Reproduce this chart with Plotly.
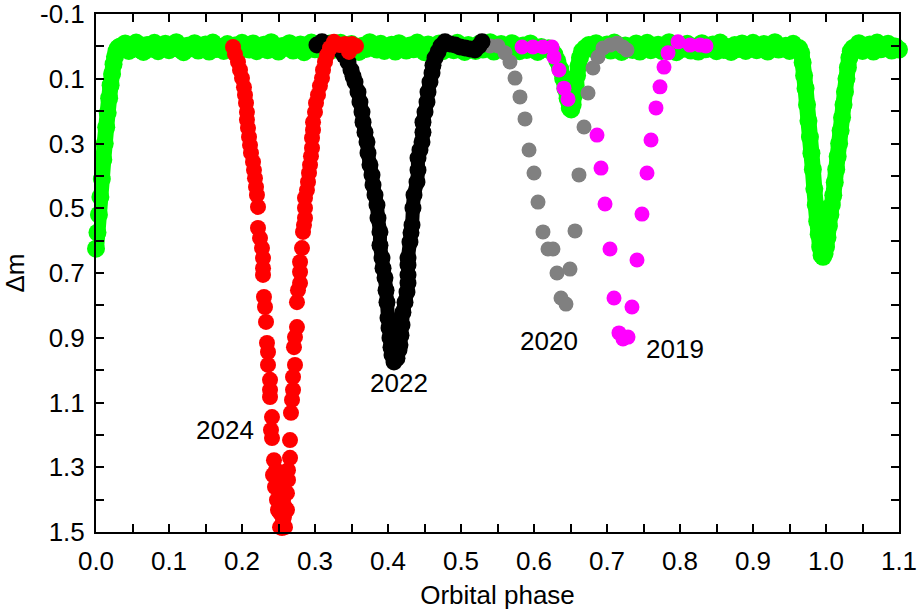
import plotly.graph_objects as go

# ---------------- data ----------------
# Green: full light curve (phase, delta m)
green_phase = [
    0.000, 0.002, 0.004, 0.006, 0.008, 0.010, 0.012, 0.014, 0.016, 0.018,
    0.020, 0.022, 0.024, 0.026, 0.028, 0.030, 0.033,
    0.035, 0.040, 0.045, 0.050, 0.055, 0.060, 0.065, 0.070, 0.075, 0.080,
    0.085, 0.090, 0.095, 0.100, 0.105, 0.110, 0.115, 0.120, 0.125, 0.130,
    0.135, 0.140, 0.145, 0.150, 0.155, 0.160, 0.165, 0.170, 0.175, 0.180,
    0.185, 0.190, 0.195, 0.200, 0.205, 0.210, 0.215, 0.220, 0.225, 0.230,
    0.235, 0.240, 0.245, 0.250, 0.255, 0.260, 0.265, 0.270, 0.275, 0.280,
    0.285, 0.290, 0.295, 0.300, 0.305, 0.310, 0.315, 0.320, 0.325, 0.330,
    0.335, 0.340, 0.345, 0.350, 0.355, 0.360, 0.365, 0.370, 0.375, 0.380,
    0.385, 0.390, 0.395, 0.400, 0.405, 0.410, 0.415, 0.420, 0.425, 0.430,
    0.435, 0.440, 0.445, 0.450, 0.455, 0.460, 0.465, 0.470, 0.475, 0.480,
    0.485, 0.490, 0.495, 0.500, 0.505, 0.510, 0.515, 0.520, 0.525, 0.530,
    0.535, 0.540, 0.545, 0.550, 0.555, 0.560, 0.565, 0.570, 0.575, 0.580,
    0.585, 0.590, 0.595, 0.600, 0.605, 0.610,
    0.615, 0.620, 0.624, 0.628, 0.632, 0.636, 0.640, 0.643, 0.646, 0.649,
    0.651, 0.653, 0.655, 0.657, 0.659, 0.661, 0.663, 0.666, 0.670, 0.675,
    0.680, 0.685, 0.690, 0.695, 0.700, 0.705, 0.710, 0.715, 0.720, 0.725,
    0.730, 0.735, 0.740, 0.745, 0.750, 0.755, 0.760, 0.765, 0.770, 0.775,
    0.780, 0.785, 0.790, 0.795, 0.800, 0.805, 0.810, 0.815, 0.820, 0.825,
    0.830, 0.835, 0.840, 0.845, 0.850, 0.855, 0.860, 0.865, 0.870, 0.875,
    0.880, 0.885, 0.890, 0.895, 0.900, 0.905, 0.910, 0.915, 0.920, 0.925,
    0.930, 0.935, 0.940, 0.945, 0.950, 0.955, 0.960,
    0.963, 0.966, 0.968, 0.970, 0.972, 0.974, 0.976, 0.978, 0.980, 0.982,
    0.984, 0.986, 0.988, 0.990, 0.992, 0.994, 0.996, 0.998, 1.000, 1.002,
    1.004, 1.006, 1.008, 1.010, 1.012, 1.014, 1.016, 1.018, 1.020, 1.022,
    1.024, 1.026, 1.028, 1.030, 1.032, 1.034, 1.037,
    1.040, 1.045, 1.050, 1.055, 1.060, 1.065, 1.070, 1.075, 1.080, 1.085,
    1.090, 1.095, 1.100,
]
green_dm = [
    0.625, 0.575, 0.520, 0.465, 0.410, 0.350, 0.300, 0.250, 0.205, 0.160,
    0.120, 0.085, 0.055, 0.032, 0.015, 0.005, 0.000,
    0.004, -0.009, 0.014, 0.001, -0.012, 0.010, 0.017, -0.004, 0.007, -0.011,
    0.015, 0.000, -0.008, 0.012, 0.005, -0.013, 0.009, 0.018, -0.002, 0.006,
    -0.010, 0.013, 0.003, -0.006, 0.016, -0.012, 0.008, 0.002, 0.014, -0.007,
    0.011, -0.003, 0.017, -0.011, 0.005, 0.010, -0.009, 0.015, 0.001, -0.005,
    0.012, -0.013, 0.007, 0.016, -0.001, 0.004, -0.010, 0.013, 0.008, -0.006,
    0.018, 0.002, -0.012, 0.009, -0.004, 0.014, 0.006, -0.009, 0.011, 0.000,
    -0.011, 0.015, 0.003, -0.007, 0.012, 0.017, -0.002, 0.008, -0.013, 0.005,
    0.010, -0.008, 0.014, 0.001, -0.005, 0.016, -0.010, 0.007, 0.013, -0.003,
    0.009, -0.012, 0.004, 0.018, -0.006, 0.011, 0.002, -0.009, 0.015, 0.006,
    -0.001, 0.012, -0.011, 0.008, 0.017, -0.004, 0.003, 0.014, -0.008, 0.010,
    0.005, -0.013, 0.016, 0.000, -0.007, 0.013, 0.009, -0.010, 0.006, 0.015,
    -0.003, 0.011, -0.009, 0.004, 0.017, 0.002,
    0.008, 0.006, 0.012, 0.025, 0.045, 0.070, 0.100, 0.130, 0.160, 0.190,
    0.195, 0.180, 0.150, 0.120, 0.090, 0.060, 0.035, 0.015, 0.005, -0.004,
    0.008, -0.010, 0.015, 0.002, -0.006, 0.013, -0.012, 0.009, 0.017, -0.003,
    0.005, 0.011, -0.009, 0.016, 0.000, -0.011, 0.012, 0.006, -0.005, 0.014,
    0.003, -0.013, 0.010, 0.018, -0.002, 0.007, -0.008, 0.013, 0.001, 0.016,
    -0.010, 0.009, 0.004, -0.006, 0.015, -0.012, 0.011, 0.002, 0.017, -0.004,
    0.008, -0.009, 0.014, 0.000, -0.011, 0.012, 0.005, -0.007, 0.016, 0.003,
    -0.013, 0.010, 0.006, -0.002, 0.014, -0.008, 0.009,
    0.005, 0.020, 0.050, 0.090, 0.130, 0.180, 0.230, 0.280, 0.330, 0.380,
    0.440, 0.490, 0.540, 0.580, 0.620, 0.645, 0.650, 0.640, 0.620, 0.590,
    0.555, 0.520, 0.490, 0.460, 0.420, 0.380, 0.340, 0.300, 0.260, 0.220,
    0.180, 0.140, 0.100, 0.065, 0.035, 0.015, 0.005,
    0.006, -0.010, 0.014, 0.001, -0.006, 0.016, -0.012, 0.009, 0.003, -0.008,
    0.013, 0.000, 0.010,
]

# 2024 (red)
red_phase = [
    0.1877, 0.1904, 0.1945, 0.1973, 0.2000, 0.2027, 0.2041, 0.2055, 0.2068, 0.2068,
    0.2082, 0.2096, 0.2110, 0.2123, 0.2151, 0.2164, 0.2178, 0.2192, 0.2205, 0.2219,
    0.2219, 0.2247, 0.2274, 0.2288, 0.2288, 0.2288, 0.2301, 0.2315, 0.2329, 0.2342,
    0.2356, 0.2356, 0.2384, 0.2384, 0.2384, 0.2411, 0.2397, 0.2411, 0.2438, 0.2425,
    0.2452, 0.2479, 0.2493, 0.2521,
    0.2493, 0.2548, 0.2521, 0.2562, 0.2521, 0.2616, 0.2589, 0.2548, 0.2575, 0.2466,
    0.2548, 0.2562, 0.2589, 0.2616, 0.2630, 0.2630, 0.2658, 0.2658, 0.2671, 0.2685,
    0.2699, 0.2699, 0.2726, 0.2712, 0.2726, 0.2753, 0.2753, 0.2767, 0.2795, 0.2795,
    0.2795, 0.2822, 0.2836, 0.2849, 0.2863, 0.2863, 0.2863, 0.2890, 0.2904, 0.2918,
    0.2932, 0.2945, 0.2959, 0.2959, 0.2973, 0.2973, 0.3000, 0.3014, 0.3041, 0.3068,
    0.3096, 0.3110, 0.3137, 0.3164, 0.3205,
    0.3260, 0.3342, 0.3411, 0.3466, 0.3507, 0.3562,
]
red_dm = [
    0.002, 0.024, 0.048, 0.073, 0.098, 0.126, 0.150, 0.175, 0.203, 0.227,
    0.252, 0.280, 0.305, 0.329, 0.357, 0.382, 0.407, 0.434, 0.459, 0.496,
    0.561, 0.592, 0.623, 0.654, 0.685, 0.706, 0.774, 0.805, 0.851, 0.916,
    0.944, 0.984, 1.030, 1.061, 1.083, 1.145, 1.185, 1.210, 1.278, 1.324,
    1.361, 1.401, 1.432, 1.485,
    1.339, 1.361, 1.386, 1.401, 1.441, 1.432, 1.485, 1.503, 1.454, 1.309,
    1.488, 1.463, 1.423, 1.380, 1.339, 1.309, 1.271, 1.216, 1.132, 1.092,
    1.061, 1.021, 0.984, 0.929, 0.898, 0.867, 0.790, 0.753, 0.731, 0.697,
    0.666, 0.623, 0.573, 0.552, 0.530, 0.499, 0.468, 0.444, 0.419, 0.391,
    0.366, 0.339, 0.314, 0.283, 0.258, 0.234, 0.203, 0.175, 0.150, 0.122,
    0.098, 0.073, 0.048, 0.027, 0.005,
    -0.014, -0.004, -0.007, 0.017, -0.007, -0.001,
]

# 2022 (black)
black_phase = [
    0.3027, 0.3096, 0.3178, 0.3260, 0.3342, 0.3397, 0.3452, 0.3493, 0.3521, 0.3548,
    0.3589, 0.3616, 0.3644, 0.3658, 0.3685, 0.3712, 0.3726, 0.3753, 0.3781, 0.3795,
    0.3822, 0.3849, 0.3863, 0.3890, 0.3890, 0.3918, 0.3932, 0.3959, 0.3973, 0.3986,
    0.4000, 0.4014, 0.4027, 0.4041, 0.4055, 0.4082, 0.4123, 0.4151, 0.4164, 0.4178,
    0.4192, 0.4205, 0.4233, 0.4260, 0.4274, 0.4274, 0.4274, 0.4274, 0.4301, 0.4315,
    0.4329, 0.4342, 0.4356, 0.4397, 0.4411, 0.4411, 0.4438, 0.4466, 0.4479, 0.4479,
    0.4507, 0.4534, 0.4548, 0.4575, 0.4603, 0.4616, 0.4644, 0.4685, 0.4726, 0.4781,
    0.4849, 0.4918, 0.4986, 0.5055, 0.5123, 0.5192, 0.5247, 0.5288,
]
black_dm = [
    -0.004, -0.014, -0.007, 0.002, 0.011, 0.027, 0.048, 0.073, 0.092, 0.110,
    0.141, 0.172, 0.203, 0.234, 0.265, 0.295, 0.329, 0.366, 0.397, 0.428,
    0.459, 0.490, 0.530, 0.573, 0.614, 0.654, 0.685, 0.715, 0.753, 0.790,
    0.839, 0.870, 0.901, 0.929, 0.953, 0.975, 0.963, 0.938, 0.922, 0.892,
    0.861, 0.821, 0.790, 0.759, 0.731, 0.706, 0.675, 0.654, 0.604, 0.576,
    0.552, 0.499, 0.459, 0.419, 0.382, 0.345, 0.320, 0.295, 0.265, 0.234,
    0.203, 0.172, 0.141, 0.110, 0.082, 0.058, 0.036, 0.017, -0.001, -0.014,
    -0.007, -0.004, 0.002, 0.005, 0.008, 0.011, -0.001, -0.014,
]

# 2020 (gray)
gray_phase = [
    0.5397, 0.5507, 0.5603, 0.5671, 0.5740, 0.5808, 0.5877, 0.5932, 0.6000, 0.6055,
    0.6123, 0.6192, 0.6260, 0.6315, 0.6370, 0.6438, 0.6493, 0.6562, 0.6616, 0.6685,
    0.6740, 0.6808, 0.6877, 0.6945, 0.7041, 0.7137, 0.7219, 0.7274,
]
gray_dm = [
    -0.001, -0.001, 0.020, 0.048, 0.098, 0.156, 0.224, 0.320, 0.391, 0.481,
    0.573, 0.626, 0.626, 0.700, 0.777, 0.796, 0.688, 0.570, 0.397, 0.249,
    0.144, 0.067, 0.033, 0.005, -0.004, -0.010, 0.002, 0.011,
]

# 2019 (magenta)
magenta_phase = [
    0.5836, 0.5986, 0.6123, 0.6247, 0.6274, 0.6342, 0.6411, 0.6466, 0.6863, 0.6918,
    0.6973, 0.7041, 0.7096, 0.7164, 0.7219, 0.7288, 0.7342, 0.7411, 0.7479, 0.7548,
    0.7603, 0.7671, 0.7726, 0.7781, 0.7836, 0.7973, 0.8137, 0.8274, 0.8356,
]
magenta_dm = [
    0.002, 0.002, 0.002, 0.002, 0.033, 0.073, 0.129, 0.163, 0.274, 0.376,
    0.487, 0.626, 0.777, 0.885, 0.904, 0.898, 0.805, 0.660, 0.518, 0.391,
    0.289, 0.190, 0.125, 0.064, 0.020, -0.014, -0.004, -0.004, -0.001,
]

# labels
year_labels = ["2024", "2022", "2020", "2019"]
year_x = [0.177, 0.415, 0.6205, 0.793]
year_y = [1.185, 1.040, 0.910, 0.934]

x_tickvals = [0.0, 0.1, 0.2, 0.3, 0.4, 0.5, 0.6, 0.7, 0.8, 0.9, 1.0, 1.1]
x_ticktext = ["0.0", "0.1", "0.2", "0.3", "0.4", "0.5", "0.6", "0.7", "0.8", "0.9", "1.0", "1.1"]
y_tickvals = [-0.1, 0.1, 0.3, 0.5, 0.7, 0.9, 1.1, 1.3, 1.5]
y_ticktext = ["-0.1", "0.1", "0.3", "0.5", "0.7", "0.9", "1.1", "1.3", "1.5"]

FONT = "Liberation Sans, Arial, sans-serif"

fig = go.Figure()

fig.add_trace(go.Scatter(
    x=green_phase, y=green_dm, mode="lines+markers", cliponaxis=False,
    line=dict(color="#00ff00", width=16, shape="spline", smoothing=1.0),
    marker=dict(color="#00ff00", size=18, line=dict(width=0)),
    hoverinfo="skip", showlegend=False))
fig.add_trace(go.Scatter(
    x=gray_phase, y=gray_dm, mode="markers", cliponaxis=False,
    marker=dict(color="#808080", size=15, line=dict(width=0)), showlegend=False))
fig.add_trace(go.Scatter(
    x=magenta_phase, y=magenta_dm, mode="markers", cliponaxis=False,
    marker=dict(color="#ff00ff", size=15, line=dict(width=0)), showlegend=False))
fig.add_trace(go.Scatter(
    x=black_phase, y=black_dm, mode="lines+markers", cliponaxis=False,
    line=dict(color="#000000", width=14, shape="spline", smoothing=0.8),
    marker=dict(color="#000000", size=17, line=dict(width=0)), showlegend=False))
fig.add_trace(go.Scatter(
    x=red_phase, y=red_dm, mode="markers", cliponaxis=False,
    marker=dict(color="#ff0000", size=16, line=dict(width=0)), showlegend=False))

for t, xv, yv in zip(year_labels, year_x, year_y):
    fig.add_annotation(x=xv, y=yv, text=t, showarrow=False,
                       font=dict(family=FONT, size=26, color="black"),
                       xanchor="center", yanchor="middle")

axis_common = dict(
    showline=True, linewidth=2, linecolor="black", mirror="ticks",
    ticks="inside", ticklen=8, tickwidth=2, tickcolor="black",
    showgrid=False, zeroline=False, automargin=False,
    ticklabeloverflow="allow",
    tickfont=dict(family=FONT, size=26, color="black"),
)

fig.update_xaxes(
    range=[0, 1.1], tickvals=x_tickvals, ticktext=x_ticktext,
    minor=dict(dtick=0.05, tick0=0, ticks="inside", ticklen=8, tickwidth=2,
               tickcolor="black", showgrid=False),
    title=dict(text="Orbital phase", font=dict(family=FONT, size=26, color="black"),
               standoff=24),
    ticklabelstandoff=5,
    **axis_common)
fig.update_yaxes(
    range=[1.5, -0.1], tickvals=y_tickvals, ticktext=y_ticktext,
    minor=dict(dtick=0.1, tick0=-0.1, ticks="inside", ticklen=8, tickwidth=2,
               tickcolor="black", showgrid=False),
    title=dict(text="Δm", font=dict(family=FONT, size=26, color="black"),
               standoff=10),
    ticklabelstandoff=4,
    **axis_common)

fig.update_layout(
    width=920, height=610,
    margin=dict(l=96, r=21, t=14, b=78, pad=0),
    paper_bgcolor="white", plot_bgcolor="white",
    showlegend=False,
    font=dict(family=FONT, color="black"),
)

fig.write_html("out.html")
